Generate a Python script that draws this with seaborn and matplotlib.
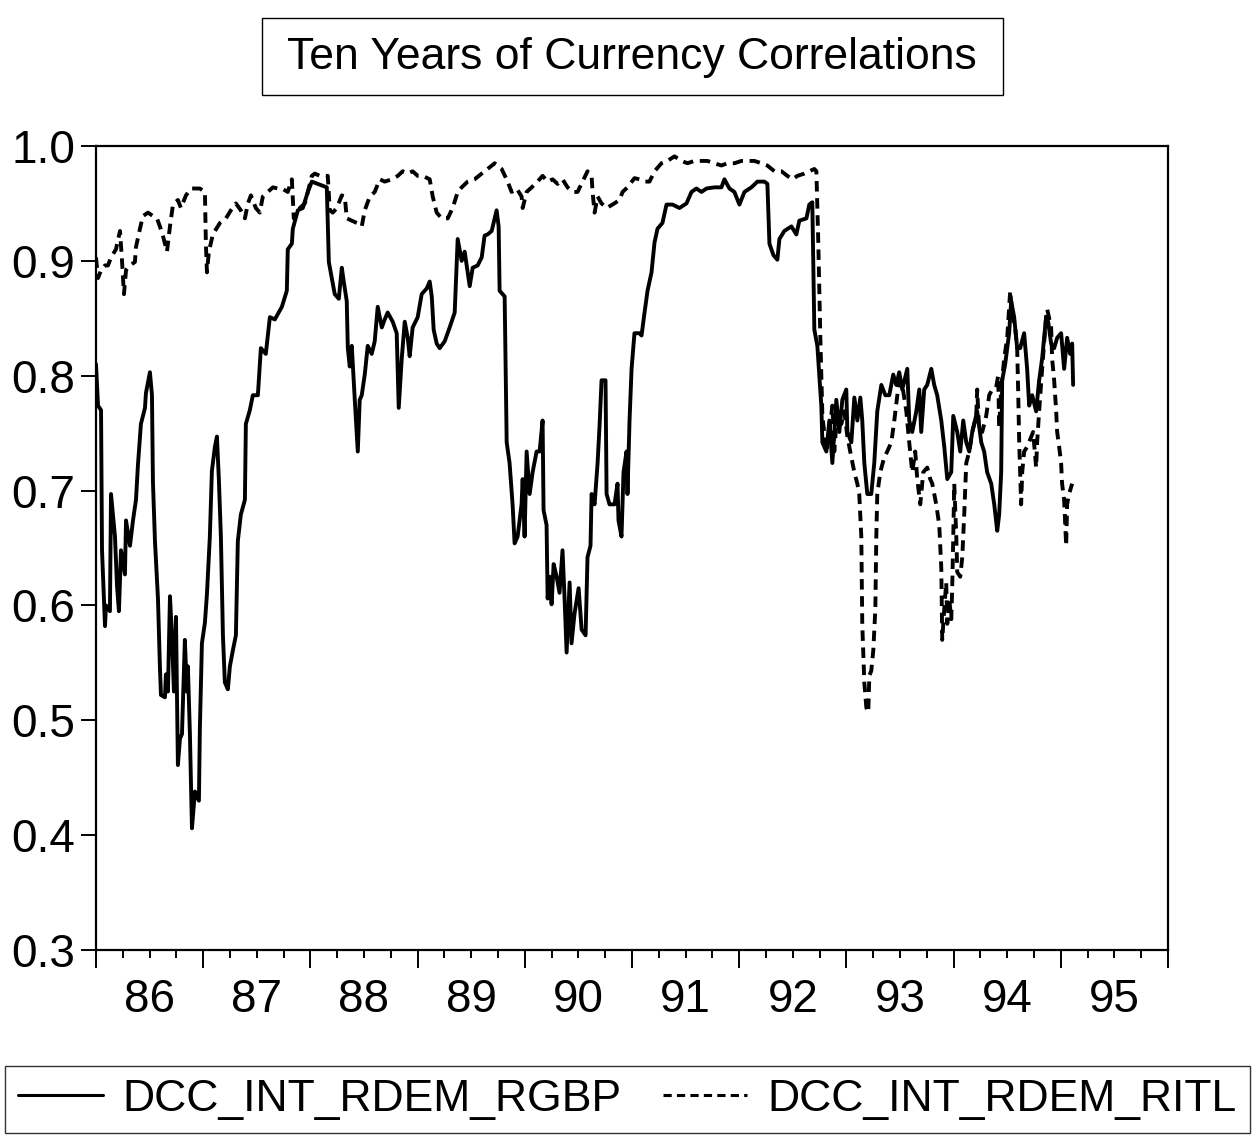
import matplotlib
matplotlib.use("Agg")
import matplotlib.pyplot as plt
import seaborn as sns
import numpy as np
from matplotlib.patches import Rectangle
from matplotlib.ticker import FixedLocator, NullFormatter, FormatStrFormatter

# ---------------- data (decimal year, correlation) ----------------
gbp_points = [
    (1986.000, 0.810), (1986.019, 0.774), (1986.047, 0.770), (1986.056, 0.648), (1986.084, 0.582),
    (1986.093, 0.600), (1986.130, 0.595), (1986.140, 0.697), (1986.177, 0.660), (1986.196, 0.617),
    (1986.214, 0.595), (1986.233, 0.648), (1986.270, 0.627), (1986.280, 0.674), (1986.317, 0.652),
    (1986.345, 0.674), (1986.373, 0.692), (1986.391, 0.722), (1986.419, 0.758), (1986.457, 0.772),
    (1986.466, 0.785), (1986.503, 0.803), (1986.522, 0.783), (1986.531, 0.708), (1986.550, 0.656),
    (1986.578, 0.606), (1986.596, 0.547), (1986.606, 0.522), (1986.643, 0.520), (1986.652, 0.540),
    (1986.671, 0.525), (1986.690, 0.608), (1986.708, 0.574), (1986.727, 0.525), (1986.746, 0.590),
    (1986.764, 0.461), (1986.783, 0.484), (1986.802, 0.488), (1986.829, 0.570), (1986.848, 0.525),
    (1986.857, 0.547), (1986.876, 0.488), (1986.895, 0.406), (1986.923, 0.438), (1986.960, 0.430),
    (1986.969, 0.493), (1986.988, 0.567),
    (1987.016, 0.585), (1987.035, 0.610), (1987.062, 0.660), (1987.081, 0.717), (1987.109, 0.738),
    (1987.128, 0.747), (1987.146, 0.710), (1987.165, 0.660), (1987.184, 0.574), (1987.202, 0.533),
    (1987.230, 0.527), (1987.249, 0.547), (1987.277, 0.561), (1987.305, 0.574), (1987.323, 0.656),
    (1987.351, 0.679), (1987.389, 0.692), (1987.398, 0.758), (1987.435, 0.770), (1987.463, 0.783),
    (1987.510, 0.783), (1987.538, 0.824), (1987.584, 0.819), (1987.622, 0.851), (1987.668, 0.849),
    (1987.734, 0.860), (1987.780, 0.874), (1987.789, 0.910), (1987.827, 0.915), (1987.836, 0.928),
    (1987.883, 0.944), (1987.929, 0.946), (1987.976, 0.960),
    (1988.013, 0.969), (1988.069, 0.967), (1988.153, 0.964), (1988.172, 0.899), (1988.200, 0.885),
    (1988.227, 0.871), (1988.265, 0.867), (1988.293, 0.894), (1988.311, 0.882), (1988.339, 0.865),
    (1988.349, 0.824), (1988.367, 0.808), (1988.386, 0.826), (1988.414, 0.779), (1988.442, 0.734),
    (1988.460, 0.779), (1988.479, 0.783), (1988.507, 0.801), (1988.535, 0.826), (1988.572, 0.819),
    (1988.600, 0.830), (1988.628, 0.860), (1988.666, 0.842), (1988.693, 0.849), (1988.721, 0.855),
    (1988.768, 0.847), (1988.805, 0.837), (1988.824, 0.772), (1988.852, 0.815), (1988.880, 0.847),
    (1988.908, 0.833), (1988.926, 0.817), (1988.954, 0.842),
    (1989.001, 0.851), (1989.038, 0.871), (1989.085, 0.876), (1989.113, 0.882), (1989.132, 0.869),
    (1989.150, 0.840), (1989.178, 0.828), (1989.206, 0.824), (1989.253, 0.830), (1989.299, 0.842),
    (1989.346, 0.855), (1989.374, 0.919), (1989.411, 0.900), (1989.439, 0.908), (1989.486, 0.878),
    (1989.514, 0.894), (1989.560, 0.896), (1989.598, 0.903), (1989.625, 0.922), (1989.653, 0.923),
    (1989.691, 0.926), (1989.737, 0.944), (1989.756, 0.930), (1989.765, 0.874), (1989.812, 0.869),
    (1989.831, 0.742), (1989.858, 0.724), (1989.886, 0.688), (1989.905, 0.654), (1989.933, 0.660),
    (1989.970, 0.688), (1989.980, 0.710), (1989.998, 0.660),
    (1990.017, 0.734), (1990.045, 0.697), (1990.073, 0.716), (1990.110, 0.734), (1990.138, 0.734),
    (1990.166, 0.761), (1990.175, 0.683), (1990.203, 0.670), (1990.213, 0.606), (1990.231, 0.625),
    (1990.250, 0.601), (1990.269, 0.636), (1990.297, 0.625), (1990.324, 0.611), (1990.352, 0.648),
    (1990.371, 0.606), (1990.390, 0.559), (1990.418, 0.620), (1990.436, 0.567), (1990.464, 0.593),
    (1990.502, 0.615), (1990.530, 0.579), (1990.567, 0.574), (1990.585, 0.642), (1990.613, 0.652),
    (1990.623, 0.697), (1990.651, 0.688), (1990.679, 0.724), (1990.697, 0.756), (1990.716, 0.796),
    (1990.753, 0.796), (1990.763, 0.697), (1990.790, 0.688), (1990.837, 0.688), (1990.865, 0.706),
    (1990.874, 0.674), (1990.902, 0.660), (1990.921, 0.716), (1990.949, 0.734), (1990.958, 0.697),
    (1990.977, 0.761), (1990.996, 0.806),
    (1991.023, 0.837), (1991.070, 0.837), (1991.089, 0.835), (1991.117, 0.855), (1991.145, 0.874),
    (1991.182, 0.890), (1991.210, 0.916), (1991.238, 0.928), (1991.284, 0.933), (1991.322, 0.949),
    (1991.378, 0.949), (1991.443, 0.946), (1991.508, 0.950), (1991.555, 0.960), (1991.601, 0.963),
    (1991.648, 0.960), (1991.695, 0.963), (1991.769, 0.964), (1991.834, 0.964), (1991.862, 0.971),
    (1991.909, 0.963), (1991.955, 0.960),
    (1992.002, 0.949), (1992.049, 0.960), (1992.114, 0.964), (1992.170, 0.969), (1992.235, 0.969),
    (1992.263, 0.967), (1992.282, 0.915), (1992.319, 0.905), (1992.356, 0.901), (1992.375, 0.919),
    (1992.421, 0.926), (1992.487, 0.930), (1992.533, 0.923), (1992.561, 0.935), (1992.627, 0.937),
    (1992.654, 0.949), (1992.682, 0.951), (1992.701, 0.840), (1992.729, 0.826), (1992.766, 0.774),
    (1992.776, 0.742), (1992.813, 0.734), (1992.841, 0.761), (1992.869, 0.724), (1992.906, 0.779),
    (1992.934, 0.751), (1992.962, 0.779), (1992.999, 0.788),
    (1993.009, 0.751), (1993.046, 0.742), (1993.074, 0.781), (1993.102, 0.761), (1993.130, 0.781),
    (1993.148, 0.761), (1993.167, 0.724), (1993.195, 0.697), (1993.232, 0.697), (1993.260, 0.724),
    (1993.288, 0.769), (1993.326, 0.792), (1993.363, 0.783), (1993.400, 0.783), (1993.437, 0.801),
    (1993.465, 0.792), (1993.493, 0.803), (1993.521, 0.788), (1993.568, 0.806), (1993.586, 0.761),
    (1993.614, 0.751), (1993.652, 0.769), (1993.680, 0.788), (1993.698, 0.751), (1993.726, 0.788),
    (1993.754, 0.792), (1993.792, 0.806), (1993.819, 0.792), (1993.847, 0.783), (1993.885, 0.761),
    (1993.913, 0.738), (1993.941, 0.710), (1993.978, 0.716), (1993.997, 0.765),
    (1994.034, 0.751), (1994.062, 0.734), (1994.090, 0.761), (1994.118, 0.742), (1994.146, 0.734),
    (1994.174, 0.751), (1994.220, 0.769), (1994.258, 0.742), (1994.285, 0.734), (1994.313, 0.716),
    (1994.351, 0.706), (1994.379, 0.688), (1994.407, 0.665), (1994.425, 0.679), (1994.444, 0.716),
    (1994.453, 0.796), (1994.481, 0.810), (1994.500, 0.824), (1994.518, 0.837), (1994.537, 0.865),
    (1994.565, 0.851), (1994.593, 0.824), (1994.621, 0.824), (1994.658, 0.837), (1994.686, 0.806),
    (1994.705, 0.774), (1994.733, 0.783), (1994.770, 0.769), (1994.798, 0.796), (1994.826, 0.815),
    (1994.863, 0.851), (1994.882, 0.847), (1994.910, 0.828), (1994.938, 0.824), (1994.966, 0.833),
    (1995.003, 0.837), (1995.031, 0.806), (1995.059, 0.833), (1995.087, 0.819), (1995.106, 0.828),
    (1995.115, 0.792),
]

itl_points = [
    (1986.000, 0.903), (1986.019, 0.885), (1986.047, 0.892), (1986.084, 0.896), (1986.112, 0.896),
    (1986.140, 0.903), (1986.186, 0.910), (1986.224, 0.926), (1986.242, 0.901), (1986.261, 0.871),
    (1986.280, 0.892), (1986.317, 0.896), (1986.363, 0.899), (1986.373, 0.912), (1986.410, 0.928),
    (1986.438, 0.939), (1986.485, 0.942), (1986.531, 0.939), (1986.569, 0.937), (1986.596, 0.930),
    (1986.624, 0.922), (1986.662, 0.908), (1986.690, 0.930), (1986.718, 0.949), (1986.764, 0.953),
    (1986.792, 0.946), (1986.839, 0.957), (1986.885, 0.963), (1986.932, 0.963), (1986.969, 0.963),
    (1987.016, 0.960), (1987.025, 0.915), (1987.035, 0.890), (1987.053, 0.908), (1987.090, 0.923),
    (1987.156, 0.933), (1987.212, 0.937), (1987.258, 0.944), (1987.305, 0.950), (1987.351, 0.944),
    (1987.389, 0.937), (1987.417, 0.950), (1987.445, 0.957), (1987.491, 0.946), (1987.528, 0.942),
    (1987.556, 0.956), (1987.603, 0.960), (1987.650, 0.964), (1987.696, 0.963), (1987.734, 0.963),
    (1987.789, 0.960), (1987.827, 0.971), (1987.845, 0.937), (1987.873, 0.942), (1987.901, 0.946),
    (1987.948, 0.950), (1987.976, 0.960),
    (1988.013, 0.974), (1988.041, 0.976), (1988.088, 0.974), (1988.134, 0.974), (1988.162, 0.974),
    (1988.181, 0.944), (1988.209, 0.942), (1988.246, 0.946), (1988.293, 0.957), (1988.321, 0.956),
    (1988.339, 0.937), (1988.386, 0.935), (1988.433, 0.933), (1988.479, 0.930), (1988.507, 0.944),
    (1988.554, 0.956), (1988.600, 0.960), (1988.647, 0.971), (1988.693, 0.969), (1988.759, 0.971),
    (1988.815, 0.974), (1988.861, 0.978), (1988.908, 0.976), (1988.954, 0.978),
    (1989.001, 0.974), (1989.048, 0.974), (1989.113, 0.971), (1989.141, 0.956), (1989.178, 0.942),
    (1989.225, 0.937), (1989.281, 0.937), (1989.327, 0.946), (1989.374, 0.960), (1989.411, 0.964),
    (1989.467, 0.969), (1989.532, 0.971), (1989.598, 0.976), (1989.653, 0.980), (1989.719, 0.985),
    (1989.784, 0.980), (1989.840, 0.969), (1989.877, 0.960), (1989.924, 0.963), (1989.970, 0.956),
    (1989.980, 0.946),
    (1990.017, 0.960), (1990.064, 0.964), (1990.119, 0.969), (1990.166, 0.974), (1990.213, 0.969),
    (1990.259, 0.971), (1990.306, 0.967), (1990.352, 0.971), (1990.399, 0.964), (1990.446, 0.960),
    (1990.492, 0.960), (1990.539, 0.969), (1990.585, 0.978), (1990.623, 0.974), (1990.632, 0.960),
    (1990.651, 0.942), (1990.679, 0.956), (1990.716, 0.950), (1990.763, 0.946), (1990.818, 0.949),
    (1990.884, 0.953), (1990.912, 0.960), (1990.958, 0.964),
    (1991.023, 0.972), (1991.070, 0.971), (1991.117, 0.969), (1991.163, 0.969), (1991.210, 0.978),
    (1991.275, 0.985), (1991.331, 0.987), (1991.396, 0.991), (1991.462, 0.987), (1991.517, 0.985),
    (1991.583, 0.987), (1991.648, 0.987), (1991.704, 0.987), (1991.769, 0.985), (1991.834, 0.983),
    (1991.890, 0.985), (1991.955, 0.985),
    (1992.021, 0.987), (1992.077, 0.987), (1992.142, 0.987), (1992.207, 0.985), (1992.263, 0.983),
    (1992.328, 0.978), (1992.394, 0.978), (1992.449, 0.974), (1992.496, 0.971), (1992.543, 0.974),
    (1992.608, 0.976), (1992.654, 0.978), (1992.701, 0.980), (1992.720, 0.978), (1992.738, 0.915),
    (1992.757, 0.833), (1992.776, 0.765), (1992.813, 0.734), (1992.841, 0.751), (1992.869, 0.774),
    (1992.887, 0.734), (1992.915, 0.769), (1992.953, 0.758), (1992.981, 0.769),
    (1993.009, 0.747), (1993.046, 0.729), (1993.074, 0.716), (1993.102, 0.706), (1993.120, 0.697),
    (1993.139, 0.660), (1993.148, 0.584), (1993.167, 0.533), (1993.186, 0.511), (1993.204, 0.507),
    (1993.214, 0.539), (1993.232, 0.543), (1993.251, 0.561), (1993.270, 0.597), (1993.279, 0.660),
    (1993.288, 0.697), (1993.316, 0.716), (1993.353, 0.729), (1993.381, 0.734), (1993.419, 0.742),
    (1993.447, 0.761), (1993.475, 0.783), (1993.493, 0.796), (1993.521, 0.792), (1993.559, 0.769),
    (1993.586, 0.742), (1993.614, 0.716), (1993.642, 0.734), (1993.661, 0.710), (1993.689, 0.688),
    (1993.717, 0.716), (1993.754, 0.720), (1993.782, 0.710), (1993.801, 0.706), (1993.838, 0.688),
    (1993.866, 0.670), (1993.885, 0.633), (1993.894, 0.570), (1993.913, 0.597), (1993.931, 0.620),
    (1993.941, 0.584), (1993.959, 0.606), (1993.978, 0.588), (1993.987, 0.615), (1993.997, 0.660),
    (1994.006, 0.706), (1994.025, 0.660), (1994.034, 0.629), (1994.062, 0.625), (1994.081, 0.642),
    (1994.099, 0.679), (1994.118, 0.724), (1994.146, 0.734), (1994.174, 0.751), (1994.211, 0.765),
    (1994.220, 0.788), (1994.239, 0.751), (1994.267, 0.751), (1994.304, 0.765), (1994.332, 0.783),
    (1994.360, 0.788), (1994.397, 0.790), (1994.416, 0.800), (1994.425, 0.755), (1994.444, 0.788),
    (1994.472, 0.815), (1994.500, 0.833), (1994.528, 0.874), (1994.546, 0.855), (1994.574, 0.842),
    (1994.593, 0.824), (1994.602, 0.788), (1994.612, 0.742), (1994.630, 0.688), (1994.640, 0.716),
    (1994.658, 0.734), (1994.686, 0.738), (1994.724, 0.747), (1994.742, 0.751), (1994.770, 0.720),
    (1994.779, 0.742), (1994.798, 0.769), (1994.826, 0.806), (1994.863, 0.851), (1994.873, 0.858),
    (1994.910, 0.842), (1994.919, 0.815), (1994.938, 0.796), (1994.957, 0.769), (1994.966, 0.751),
    (1994.985, 0.738),
    (1995.003, 0.724), (1995.012, 0.706), (1995.031, 0.692), (1995.050, 0.652), (1995.059, 0.688),
    (1995.077, 0.697), (1995.106, 0.706),
]

gbp_year = [p[0] for p in gbp_points]
gbp_corr = [p[1] for p in gbp_points]
itl_year = [p[0] for p in itl_points]
itl_corr = [p[1] for p in itl_points]

series_names = ["DCC_INT_RDEM_RGBP", "DCC_INT_RDEM_RITL"]
title_text = "Ten Years of Currency Correlations"
years = list(range(1986, 1997))
year_labels = ["86", "87", "88", "89", "90", "91", "92", "93", "94", "95"]
y_ticks = [0.3, 0.4, 0.5, 0.6, 0.7, 0.8, 0.9, 1.0]

# ---------------- style ----------------
sns.set_style("ticks", {"axes.edgecolor": "black", "text.color": "black",
                        "xtick.color": "black", "ytick.color": "black"})
plt.rcParams['font.family'] = ['Liberation Sans', 'DejaVu Sans']

W, H = 1257, 1140
fig = plt.figure(figsize=(W / 100, H / 100), dpi=100)
ax = fig.add_axes([96 / W, 1 - 950 / H, (1168 - 96) / W, (950 - 146) / H])

sns.lineplot(x=gbp_year, y=gbp_corr, ax=ax, color="black", linewidth=2.8,
             estimator=None, sort=False, label=series_names[0])
sns.lineplot(x=itl_year, y=itl_corr, ax=ax, color="black", linewidth=2.8,
             linestyle=(0, (2.7, 1.7)), estimator=None, sort=False, label=series_names[1])

ax.set_xlim(years[0], years[-1])
ax.set_ylim(y_ticks[0], y_ticks[-1])
ax.set_xlabel("")
ax.set_ylabel("")

# x axis: long ticks at year boundaries, quarter ticks, labels centred in each year
ax.xaxis.set_major_locator(FixedLocator(years))
ax.xaxis.set_major_formatter(NullFormatter())
minor_pos = []
minor_lab = []
for i, yr in enumerate(years[:-1]):
    for q in (0.25, 0.5, 0.75):
        minor_pos.append(yr + q)
        minor_lab.append(year_labels[i] if q == 0.5 else "")
ax.set_xticks(minor_pos, minor_lab, minor=True)
ax.tick_params(axis="x", which="major", direction="out", length=13, width=1.4)
ax.tick_params(axis="x", which="minor", direction="out", length=6, width=1.4,
               labelsize=33, pad=14)

ax.set_yticks(y_ticks)
ax.yaxis.set_major_formatter(FormatStrFormatter("%.1f"))
ax.tick_params(axis="y", which="major", direction="out", length=11, width=1.4,
               labelsize=33, pad=4)

for s in ax.spines.values():
    s.set_linewidth(1.6)
    s.set_color("black")

# title in a box
fig.add_artist(Rectangle((262 / W, 1 - 95 / H), 741 / W, 77 / H, transform=fig.transFigure,
                         fill=False, edgecolor="black", linewidth=1.0))
fig.text(632 / W, 1 - 57 / H, title_text, ha="center", va="center", fontsize=32)

# legend in a box along the bottom
handles, labels = ax.get_legend_handles_labels()
if ax.get_legend() is not None:
    ax.get_legend().remove()
leg = fig.legend(handles, labels, loc="center", ncol=2, mode="expand",
                 bbox_to_anchor=(5 / W, 1 - 1137 / H, 1245 / W, 75 / H),
                 fontsize=32, frameon=True, fancybox=False, edgecolor="black",
                 handlelength=1.9, handletextpad=0.45, borderpad=0.3,
                 borderaxespad=0, columnspacing=0.6)
leg.get_frame().set_linewidth(1.0)
for h in leg.get_lines():
    h.set_linewidth(2.2)

fig.savefig("out.png", dpi=100)
